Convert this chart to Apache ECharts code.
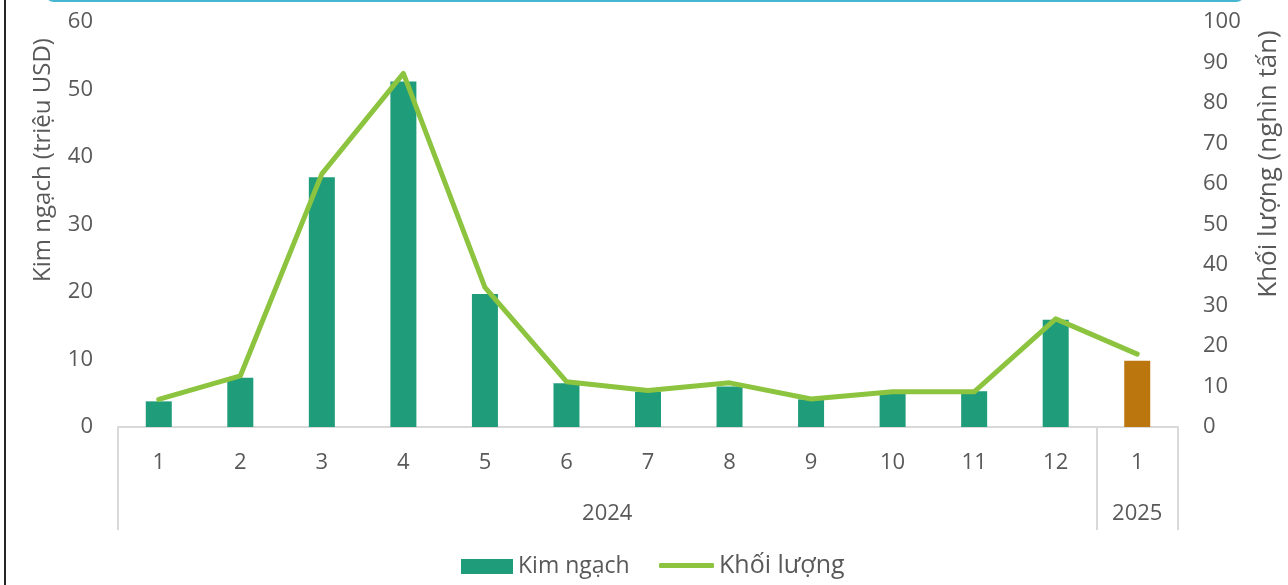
<!DOCTYPE html>
<html>
<head>
<meta charset="utf-8">
<script src="https://cdn.jsdelivr.net/npm/echarts@6/dist/echarts.min.js"></script>
<style>
  html, body { margin: 0; padding: 0; background: #ffffff; }
  #chart { width: 1288px; height: 585px; }
</style>
</head>
<body>
<div id="chart"></div>
<script>
// Monthly export turnover (million USD) and volume (thousand tonnes)
const months = ['1', '2', '3', '4', '5', '6', '7', '8', '9', '10', '11', '12', '1'];
const kimNgach = [3.8, 7.3, 37.0, 51.2, 19.7, 6.5, 5.2, 6.0, 4.1, 5.0, 5.3, 15.9, 9.8];
const khoiLuong = [6.8, 12.6, 62.5, 87.3, 34.5, 11.2, 9.0, 10.9, 6.9, 8.7, 8.7, 26.7, 18.0];
const years = ['2024', '2025'];
const yearSpans = [12, 1];
const leftTicks = [0, 60, 10];
const rightTicks = [0, 100, 10];

const FONT = 'Open Sans';
const TEXT = '#595959';
const AXIS = '#d9d9d9';
const TEAL = '#1f9c7a';
const ORANGE = '#bb770e';
const GREEN = '#8cc43f';

// year group boundaries and centres on a 0..N scale
const bounds = [0];
const centres = [];
yearSpans.forEach(function (s) {
  const start = bounds[bounds.length - 1];
  centres.push(start + s / 2);
  bounds.push(start + s);
});

const barData = kimNgach.map(function (v, i) {
  return i === kimNgach.length - 1 ? { value: v, itemStyle: { color: ORANGE } } : v;
});

const chart = echarts.init(document.getElementById('chart'));
chart.setOption({
  animation: false,
  textStyle: { fontFamily: FONT },
  grid: { left: 118, right: 110, top: 22, bottom: 158, outerBoundsMode: 'none', containLabel: false },
  graphic: [
    { type: 'rect', shape: { x: 45, y: -20, width: 1200, height: 22, r: 9 }, style: { fill: '#45b6d2' }, silent: true },
    { type: 'rect', shape: { x: 4, y: 0, width: 2, height: 585 }, style: { fill: '#262626' }, silent: true },
    {
      type: 'text', x: 43, y: 160, rotation: Math.PI / 2, silent: true,
      style: { text: 'Kim ngạch (triệu USD)', fill: TEXT, font: '24px "Open Sans"', align: 'center', verticalAlign: 'middle' }
    },
    {
      type: 'text', x: 1269, y: 164, rotation: Math.PI / 2, silent: true,
      style: { text: 'Khối lượng (nghìn tấn)', fill: TEXT, font: '26px "Open Sans"', align: 'center', verticalAlign: 'middle' }
    }
  ],
  legend: [
    {
      left: 461, top: 555, padding: 0,
      itemWidth: 52, itemHeight: 15, itemGap: 10,
      data: [{ name: 'Kim ngạch', icon: 'rect', itemStyle: { color: TEAL } }],
      textStyle: { color: TEXT, fontSize: 23, fontFamily: FONT }
    },
    {
      left: 659, top: 553, padding: 0,
      itemWidth: 55, itemHeight: 5, itemGap: 10,
      data: [{ name: 'Khối lượng', icon: 'roundRect', itemStyle: { color: GREEN } }],
      textStyle: { color: TEXT, fontSize: 25, fontFamily: FONT }
    }
  ],
  xAxis: [
    {
      type: 'category',
      data: months,
      axisLine: { lineStyle: { color: AXIS, width: 2 } },
      axisTick: { show: false },
      axisLabel: { color: TEXT, fontSize: 22, margin: 25 }
    },
    {
      type: 'value',
      min: bounds[0],
      max: bounds[bounds.length - 1],
      position: 'bottom',
      axisLine: { show: false },
      splitLine: { show: false },
      axisTick: {
        show: true,
        customValues: bounds,
        length: 103,
        lineStyle: { color: AXIS, width: 2 }
      },
      axisLabel: {
        show: true,
        customValues: centres,
        color: TEXT,
        fontSize: 22,
        margin: 76,
        formatter: function (v) {
          const i = centres.indexOf(v);
          return i >= 0 ? years[i] : '';
        }
      }
    }
  ],
  yAxis: [
    {
      type: 'value',
      min: leftTicks[0], max: leftTicks[1], interval: leftTicks[2],
      axisLine: { show: false },
      axisTick: { show: false },
      splitLine: { show: false },
      axisLabel: { color: TEXT, fontSize: 22, margin: 25 }
    },
    {
      type: 'value',
      min: rightTicks[0], max: rightTicks[1], interval: rightTicks[2],
      axisLine: { show: false },
      axisTick: { show: false },
      splitLine: { show: false },
      axisLabel: { color: TEXT, fontSize: 22, margin: 25 }
    }
  ],
  series: [
    {
      name: 'Kim ngạch',
      type: 'bar',
      xAxisIndex: 0,
      yAxisIndex: 0,
      barWidth: 26,
      itemStyle: { color: TEAL },
      data: barData
    },
    {
      name: 'Khối lượng',
      type: 'line',
      xAxisIndex: 0,
      yAxisIndex: 1,
      symbol: 'none',
      lineStyle: { color: GREEN, width: 5, cap: 'round', join: 'round' },
      itemStyle: { color: GREEN },
      data: khoiLuong
    }
  ]
});
</script>
</body>
</html>
